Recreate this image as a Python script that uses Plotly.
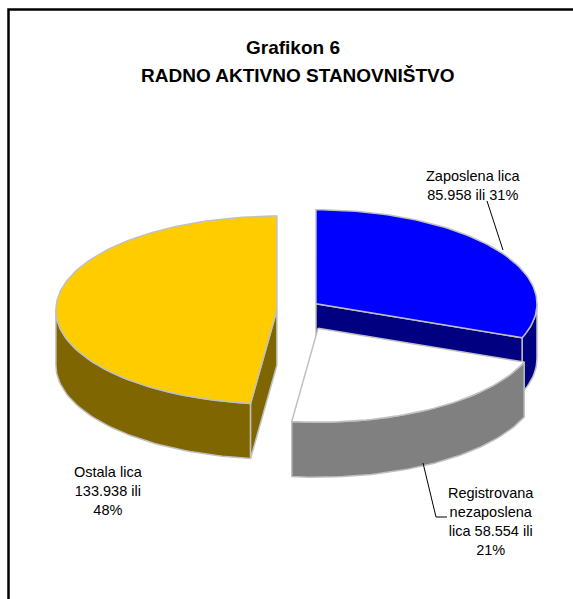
import numpy as np
import plotly.graph_objects as go

# ---- data ----
categories = ["Zaposlena lica", "Registrovana nezaposlena lica", "Ostala lica"]
values = [85958, 58554, 133938]
label_templates = [
    "Zaposlena lica<br>{v} ili {p}%",
    "Registrovana<br>nezaposlena<br>lica {v} ili<br>{p}%",
    "Ostala lica<br>{v} ili<br>{p}%",
]
title_lines = ["Grafikon 6", "RADNO AKTIVNO STANOVNIŠTVO"]

# ---- style / geometry (pixel space) ----
top_colors = ["#0000FF", "#FFFFFF", "#FFCC00"]
side_colors = ["#000080", "#808080", "#806600"]
EDGE = "#C0C0C0"
CX, CY = 293, 310.5
RX, RY, DEPTH = 221, 94, 55
PULL = [0.126, 0.22, 0.073]
DRAW_ORDER = [0, 2, 1]
LABEL_POS = [(473, 185), (491, 521), (108, 491)]
LABEL_SIZE = 14.5
TITLE_SIZE = 19
FONT = "Liberation Sans, Arial, sans-serif"

W, H = 573, 599

total = sum(values)
fracs = [v / total for v in values]
cum = np.concatenate([[0], np.cumsum(fracs)])


def fmt(v):
    return f"{v:,}".replace(",", ".")


def rim(cx, cy, ang_deg, dy=0.0):
    a = np.radians(ang_deg)
    return cx + RX * np.cos(a), cy - RY * np.sin(a) + dy


def arc(cx, cy, a_from, a_to, dy=0.0, n=None):
    if n is None:
        n = max(4, int(abs(a_to - a_from) / 1.5) + 2)
    angs = np.linspace(a_from, a_to, n)
    x, y = rim(cx, cy, angs, dy)
    return list(x), list(y)


fig = go.Figure()


def poly(xs, ys, color):
    xs = list(xs) + [xs[0]]
    ys = list(ys) + [ys[0]]
    fig.add_trace(go.Scatter(x=xs, y=ys, mode="lines", fill="toself",
                             fillcolor=color, line=dict(color=EDGE, width=1.5),
                             hoverinfo="skip", showlegend=False))


for i in DRAW_ORDER:
    a0 = 90 - cum[i] * 360        # counter-clockwise boundary
    a1 = 90 - cum[i + 1] * 360    # clockwise boundary
    mid = np.radians((a0 + a1) / 2)
    cx = CX + PULL[i] * RX * np.cos(mid)
    cy = CY - PULL[i] * RY * np.sin(mid)

    # visible outer wall (front half: angles in [-180, 0])
    lo, hi = max(a1, -180), min(a0, 0)
    if hi > lo:
        tx, ty = arc(cx, cy, lo, hi)
        bx, by = arc(cx, cy, hi, lo, dy=DEPTH)
        poly(tx + bx, ty + by, side_colors[i])

    # radial cut faces facing the viewer
    for ang, normal in ((a1, a1 - 90), (a0, a0 + 90)):
        if np.sin(np.radians(normal)) < -0.01:
            rx_, ry_ = rim(cx, cy, ang)
            poly([cx, rx_, rx_, cx], [cy, ry_, ry_ + DEPTH, cy + DEPTH], side_colors[i])

    # top surface
    tx, ty = arc(cx, cy, a0, a1)
    poly([cx] + tx, [cy] + ty, top_colors[i])

# labels
for i in range(len(values)):
    txt = label_templates[i].format(v=fmt(values[i]), p=round(fracs[i] * 100))
    fig.add_annotation(x=LABEL_POS[i][0], y=LABEL_POS[i][1], text=txt, showarrow=False,
                       xanchor="center", yanchor="middle", align="center",
                       font=dict(family=FONT, size=LABEL_SIZE, color="black"))

# leader lines
fig.add_shape(type="line", x0=487, y0=201, x1=503, y1=250, line=dict(color="black", width=1))
fig.add_shape(type="path", path="M 423,463 L 436,517 L 447,517",
              line=dict(color="black", width=1))

# title
fig.add_annotation(x=293, y=47.5, text="<b>" + title_lines[0] + "</b>", showarrow=False,
                   xanchor="center", yanchor="middle",
                   font=dict(family=FONT, size=TITLE_SIZE, color="black"))
fig.add_annotation(x=298, y=75, text="<b>" + title_lines[1] + "</b>", showarrow=False,
                   xanchor="center", yanchor="middle",
                   font=dict(family=FONT, size=TITLE_SIZE, color="black"))

# chart frame
fig.add_shape(type="rect", x0=8.5, y0=9.5, x1=W + 20, y1=H + 20,
              line=dict(color="black", width=2.5), fillcolor="rgba(0,0,0,0)")

fig.update_layout(
    width=W, height=H, margin=dict(l=0, r=0, t=0, b=0),
    paper_bgcolor="white", plot_bgcolor="white",
    xaxis=dict(range=[0, W], visible=False, fixedrange=True),
    yaxis=dict(range=[H, 0], visible=False, fixedrange=True),
    showlegend=False,
)

fig.write_html("out.html", config={"displayModeBar": False},
               post_script="document.body.style.margin='0';document.body.style.padding='0';"
                           "document.documentElement.style.overflow='hidden';")
